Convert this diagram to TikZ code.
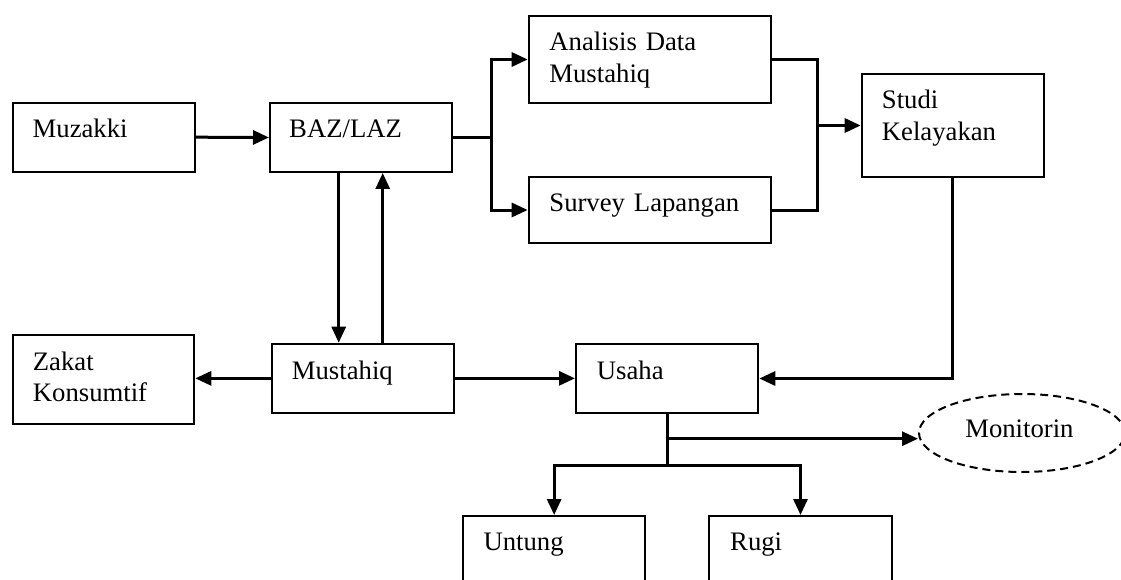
\documentclass[tikz,border=0pt]{standalone}
\usepackage{fontspec}
\setmainfont{Liberation Serif}
\usetikzlibrary{arrows.meta,shapes.geometric,calc}
\begin{document}
\begin{tikzpicture}[x=1pt,y=-1pt,
  box/.style={draw, line width=2pt, rectangle, anchor=north west, inner sep=0pt},
  lbl/.style={anchor=base west, inner sep=0pt, align=left, text width=230pt,
    font=\fontsize{26.7}{31.7}\selectfont},
  conn/.style={line width=3pt},
  arr/.style={conn, -{Triangle[length=16pt,width=14pt]}}]

\clip (0,0) rectangle (1121,580);

% boxes
\node[box, minimum width=182pt,   minimum height=69pt]   (muz) at (11.5,101.7) {};
\node[box, minimum width=182pt,   minimum height=69pt]   (baz) at (269,102) {};
\node[box, minimum width=242.3pt, minimum height=87pt]   (ana) at (527.7,15) {};
\node[box, minimum width=242.3pt, minimum height=66pt]   (sur) at (527.7,176) {};
\node[box, minimum width=182pt,   minimum height=103pt]  (stu) at (860.7,73) {};
\node[box, minimum width=181.6pt, minimum height=88.7pt] (zak) at (11.7,334) {};
\node[box, minimum width=182pt,   minimum height=69.3pt] (mus) at (271,342.7) {};
\node[box, minimum width=182.3pt, minimum height=68.4pt] (usa) at (575,343.3) {};
\node[box, minimum width=181.7pt, minimum height=72pt]   (unt) at (462.3,515) {};
\node[box, minimum width=182.4pt, minimum height=72pt]   (rug) at (708.3,515) {};
\node[draw, ellipse, line width=2pt, dash pattern=on 8pt off 5pt, inner sep=0pt,
      minimum width=206pt, minimum height=78pt] (mon) at (1022,433) {};

% labels
\node[lbl] (muz-t) at ($(muz.north west)+(21,35.5)$) {Muzakki};
\node[lbl] (baz-t) at ($(baz.north west)+(20,35.5)$) {BAZ/LAZ};
\node[lbl] (ana-t) at ($(ana.north west)+(21.5,35.5)$) {Analisis Data\\Mustahiq};
\node[lbl] (sur-t) at ($(sur.north west)+(21.5,35.5)$) {Survey Lapangan};
\node[lbl] (stu-t) at ($(stu.north west)+(21,35.5)$) {Studi\\Kelayakan};
\node[lbl] (zak-t) at ($(zak.north west)+(21,36)$) {Zakat\\Konsumtif};
\node[lbl] (mus-t) at ($(mus.north west)+(20.7,37)$) {Mustahiq};
\node[lbl] (usa-t) at ($(usa.north west)+(21.7,36)$) {Usaha};
\node[lbl] (unt-t) at ($(unt.north west)+(21,35.5)$) {Untung};
\node[lbl] (rug-t) at ($(rug.north west)+(21.7,35.5)$) {Rugi};
\node[anchor=base, inner sep=0pt, font=\fontsize{26.7}{31.7}\selectfont]
      (mon-t) at (1019.4,437.3) {Monitorin};

% connectors
\draw[arr] (muz.east) -- (baz.west);

\draw[conn] (baz.east) -- ++(38,0) coordinate (j1);
\draw[arr] (j1) |- (ana.west);
\draw[arr] (j1) |- (sur.west);

\draw[conn] (ana.east) -- ++(45.7,0) coordinate (j2) |- (sur.east);
\draw[arr] (j2 |- stu.west) -- (stu.west);

\draw[arr] (stu.south) |- (usa.east);

\draw[conn] (baz.south) ++(-22.3,0) coordinate (d1);
\draw[arr] (d1) -- (d1 |- mus.north);
\draw[conn] (baz.south) ++(21.7,0) coordinate (u1);
\draw[arr] (u1 |- mus.north) -- (u1);

\draw[arr] (mus.east) -- (mus.east -| usa.west);
\draw[arr] (mus.west) -- (mus.west -| zak.east);

\draw[conn] (usa.south) -- ++(0,52) coordinate (j3);
\draw[conn] (usa.south) ++(0,25) coordinate (j4);
\draw[arr] (j4) -- (j4 -| mon.west);
\draw[arr] (j3) -| (unt.north);
\draw[arr] (j3) -| (rug.north);

\end{tikzpicture}
\end{document}
